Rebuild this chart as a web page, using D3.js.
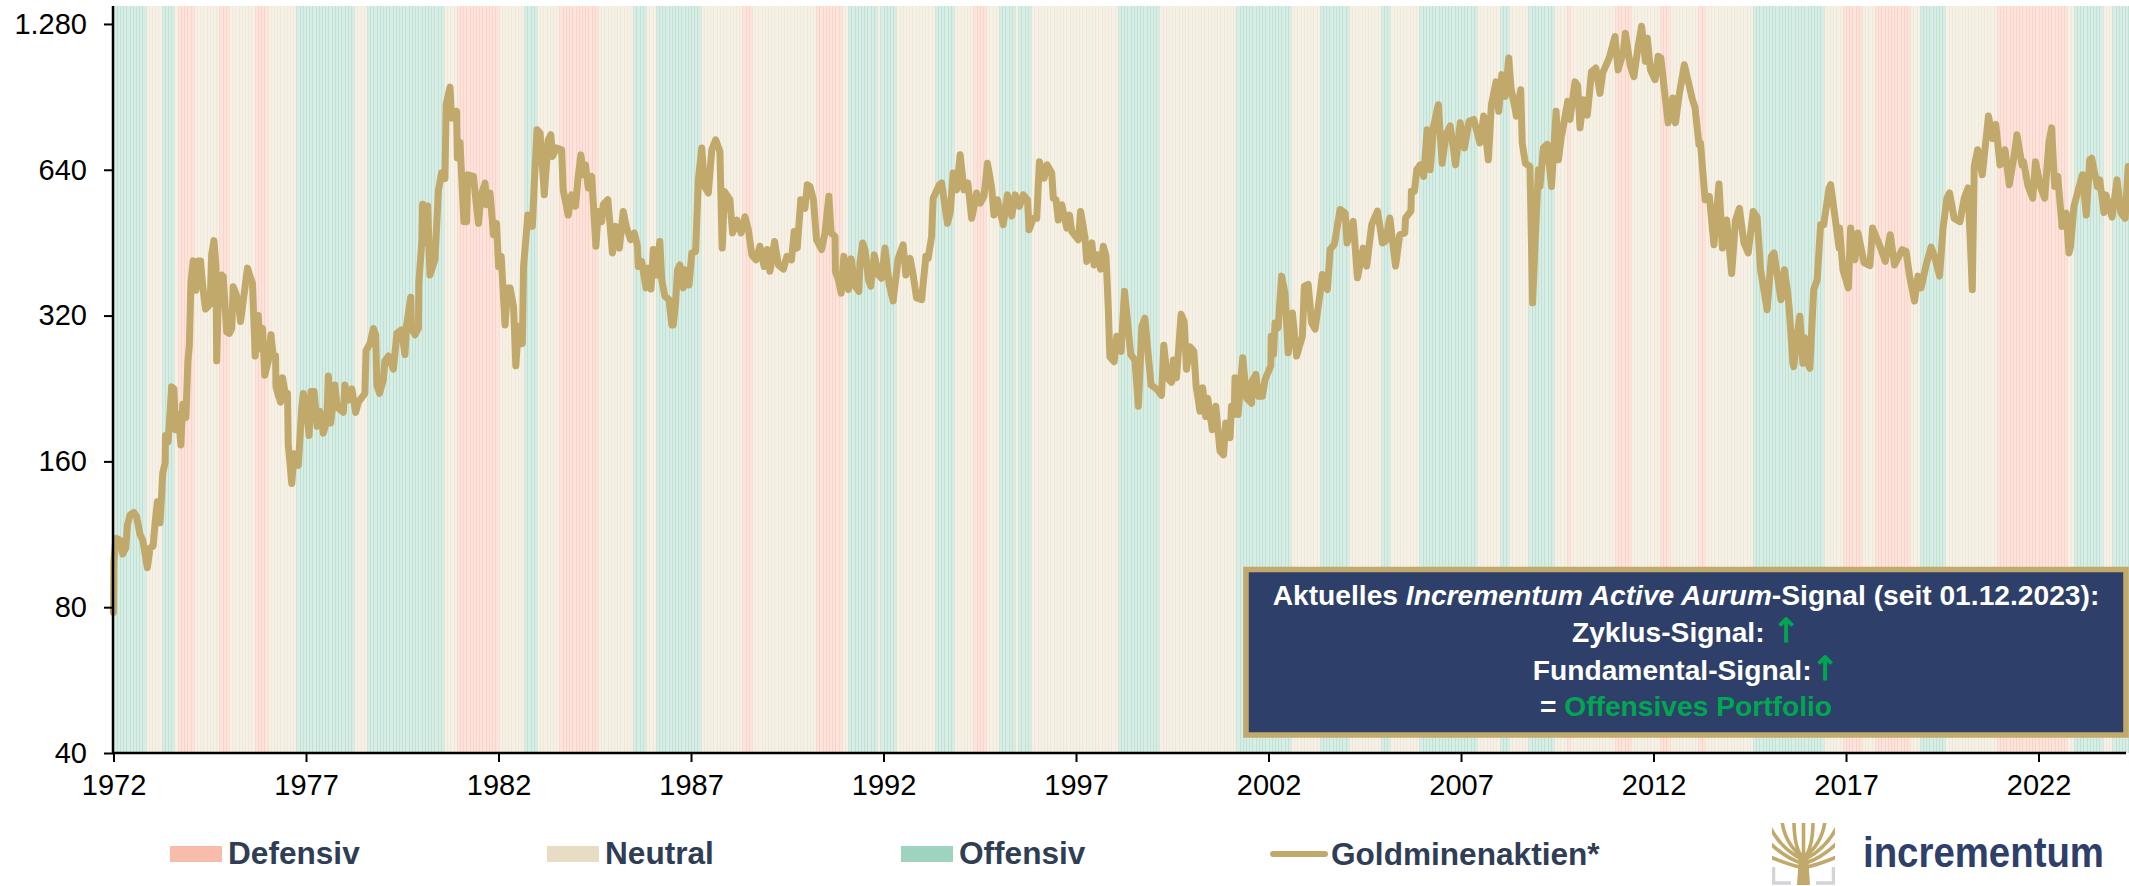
<!DOCTYPE html>
<html><head><meta charset="utf-8">
<script src="https://cdn.jsdelivr.net/npm/d3@7/dist/d3.min.js"></script>
<style>html,body{margin:0;padding:0;background:#fff}svg{display:block}text{font-family:"Liberation Sans",Arial,sans-serif}</style>
</head><body><svg id="c" width="2129" height="886"></svg>
<script>
const yTickValues=[40,80,160,320,640,1280];
const xTickYears=[1972,1977,1982,1987,1992,1997,2002,2007,2012,2017,2022];
const regimeNames=["Defensiv","Neutral","Offensiv"];
const regimeColors=["#f8bcab","#e8dcc4","#9dd3bf"];
const seriesName="Goldminenaktien*";
// regime end dates (decimal year) and state: 0 defensive, 1 neutral, 2 offensive
const regimeEnds=[1972.82,1973.23,1973.51,1973.60,1974.03,1974.71,1974.95,1975.62,1975.94,1976.71,1978.19,1978.53,1980.53,1980.87,1981.93,1982.09,1982.14,1982.61,1983.00,1983.55,1984.51,1985.47,1985.78,1986.04,1987.18,1988.27,1988.58,1989.86,1989.91,1990.25,1990.87,1991.03,1991.81,1991.88,1992.33,1993.31,1993.78,1994.27,1994.66,1994.97,1995.34,1995.42,1995.83,1998.04,1999.15,2001.10,2002.53,2003.27,2004.08,2004.87,2005.15,2005.86,2007.39,2007.99,2008.22,2008.71,2009.36,2009.75,2009.80,2010.92,2011.39,2012.12,2012.35,2013.11,2013.26,2014.58,2016.40,2016.84,2017.34,2017.75,2018.63,2018.84,2019.54,2020.87,2022.68,2022.84,2023.64,2023.90,2024.4];
const regimeStates=[2,1,2,1,0,1,0,1,0,1,2,1,2,1,0,1,0,1,2,1,0,1,2,1,2,1,0,1,2,1,0,1,2,1,2,1,2,1,0,1,2,1,2,1,2,1,2,1,2,1,2,1,2,1,2,1,2,1,0,1,0,1,0,1,0,1,2,1,0,1,0,1,2,1,0,1,2,1,2];
const years=[1972.00,1972.01,1972.06,1972.17,1972.24,1972.32,1972.36,1972.43,1972.53,1972.60,1972.69,1972.76,1972.82,1972.88,1972.95,1973.03,1973.08,1973.14,1973.21,1973.28,1973.34,1973.35,1973.42,1973.51,1973.57,1973.61,1973.68,1973.75,1973.80,1973.88,1973.93,1973.97,1974.01,1974.07,1974.14,1974.20,1974.26,1974.32,1974.39,1974.51,1974.55,1974.61,1974.66,1974.68,1974.72,1974.81,1974.85,1974.94,1975.01,1975.07,1975.11,1975.18,1975.24,1975.30,1975.37,1975.48,1975.55,1975.61,1975.68,1975.76,1975.81,1975.87,1975.93,1976.02,1976.09,1976.15,1976.21,1976.22,1976.28,1976.34,1976.39,1976.45,1976.52,1976.54,1976.63,1976.69,1976.80,1976.89,1976.93,1977.02,1977.08,1977.13,1977.21,1977.29,1977.36,1977.45,1977.54,1977.58,1977.64,1977.75,1977.81,1977.97,1978.01,1978.10,1978.19,1978.29,1978.36,1978.53,1978.56,1978.66,1978.75,1978.81,1978.84,1978.91,1979.01,1979.05,1979.14,1979.27,1979.36,1979.48,1979.57,1979.61,1979.72,1979.74,1979.83,1979.92,1979.93,1980.01,1980.03,1980.09,1980.16,1980.22,1980.35,1980.44,1980.52,1980.61,1980.64,1980.74,1980.78,1980.91,1980.93,1981.00,1981.10,
1981.17,1981.20,1981.35,1981.42,1981.48,1981.55,1981.65,1981.69,1981.78,1981.87,1981.95,1982.00,1982.07,1982.17,1982.24,1982.30,1982.39,1982.45,1982.52,1982.62,1982.65,1982.71,1982.76,1982.88,1982.93,1983.00,1983.08,1983.19,1983.29,1983.36,1983.40,1983.51,1983.64,1983.68,1983.81,1983.90,1984.00,1984.07,1984.14,1984.20,1984.26,1984.33,1984.42,1984.53,1984.59,1984.68,1984.72,1984.84,1984.96,1985.05,1985.14,1985.24,1985.33,1985.43,1985.53,1985.61,1985.63,1985.72,1985.83,1985.89,1985.96,1986.02,1986.09,1986.19,1986.24,1986.32,1986.43,1986.50,1986.54,1986.60,1986.65,1986.71,1986.80,1986.84,1986.95,1987.02,1987.12,1987.19,1987.28,1987.35,1987.45,1987.54,1987.64,1987.75,1987.81,1987.87,1988.01,1988.08,1988.19,1988.30,1988.40,1988.49,1988.58,1988.69,1988.79,1988.90,1988.98,1989.05,1989.17,1989.27,1989.40,1989.49,1989.61,1989.68,1989.76,1989.85,1989.96,1990.02,1990.09,1990.18,1990.26,
1990.39,1990.48,1990.58,1990.64,1990.74,1990.75,1990.83,1990.90,1990.97,1991.09,1991.16,1991.26,1991.36,1991.39,1991.46,1991.52,1991.61,1991.67,1991.76,1991.87,1991.95,1992.04,1992.15,1992.25,1992.38,1992.51,1992.58,1992.69,1992.77,1992.86,1992.99,1993.10,1993.16,1993.25,1993.29,1993.45,1993.51,1993.66,1993.73,1993.81,1993.90,1993.99,1994.09,1994.19,1994.29,1994.42,1994.51,1994.61,1994.70,1994.81,1994.87,1994.96,1995.11,1995.22,1995.33,1995.42,1995.53,1995.63,1995.74,1995.78,1995.89,1995.98,1996.05,1996.17,1996.25,1996.37,1996.41,1996.48,1996.54,1996.63,1996.76,1996.83,1996.89,1997.06,1997.12,1997.23,1997.28,1997.41,1997.47,1997.56,1997.64,1997.71,1997.78,1997.84,1997.88,1997.99,1998.06,1998.17,1998.26,1998.36,1998.42,1998.53,1998.62,1998.71,1998.79,1998.88,1998.95,1999.11,1999.22,1999.28,1999.37,1999.48,1999.53,
1999.61,1999.73,1999.81,1999.87,1999.96,2000.06,2000.12,2000.22,2000.29,2000.37,2000.42,2000.54,2000.63,2000.74,2000.83,2000.89,2001.00,2001.04,2001.11,2001.13,2001.21,2001.33,2001.43,2001.56,2001.57,2001.67,2001.74,2001.84,2001.91,2002.06,2002.07,2002.13,2002.17,2002.25,2002.34,2002.43,2002.51,2002.62,2002.73,2002.88,2002.93,2003.03,2003.12,2003.21,2003.34,2003.40,2003.53,2003.60,2003.71,2003.86,2003.99,2004.04,2004.20,2004.31,2004.46,2004.55,2004.68,2004.83,2004.96,2005.04,2005.15,2005.30,2005.41,2005.54,2005.56,2005.70,2005.71,2005.79,2005.85,2005.94,
2006.03,2006.12,2006.20,2006.29,2006.41,2006.51,2006.61,2006.72,2006.86,2006.98,2007.09,2007.21,2007.33,2007.49,2007.59,2007.71,2007.79,2007.91,2007.98,2008.06,2008.15,2008.24,2008.30,2008.44,2008.55,2008.59,2008.67,
2008.79,2008.86,2008.92,2009.01,2009.05,2009.14,2009.24,2009.35,2009.47,2009.53,2009.61,2009.62,2009.77,2009.83,2009.96,2010.03,2010.09,2010.18,2010.28,2010.39,2010.50,2010.61,2010.68,2010.85,2011.00,2011.08,2011.21,2011.27,2011.40,2011.49,2011.60,2011.69,2011.79,2011.84,2011.92,2012.04,2012.12,2012.19,2012.31,2012.38,2012.50,2012.57,2012.66,2012.80,2013.00,2013.08,2013.18,2013.22,2013.34,2013.45,2013.57,2013.70,2013.79,2013.90,2014.03,2014.13,2014.23,2014.35,2014.46,2014.59,2014.69,2014.78,2014.95,
2015.06,2015.13,2015.31,2015.40,2015.48,2015.52,2015.62,2015.64,2015.74,2015.80,2015.88,2015.92,2016.01,2016.06,2016.16,2016.25,2016.34,2016.42,2016.56,2016.60,2016.70,2016.82,2016.83,2016.92,2017.06,2017.12,2017.23,2017.31,2017.47,2017.62,2017.69,2017.89,2018.02,2018.15,2018.26,2018.46,2018.56,2018.65,2018.78,2018.87,2018.95,2019.08,2019.21,2019.30,2019.43,2019.52,2019.62,2019.69,2019.81,2019.96,2020.07,2020.17,2020.28,2020.33,2020.42,2020.54,2020.70,2020.81,2020.89,2021.00,2021.13,2021.24,2021.37,2021.44,2021.57,2021.61,2021.73,2021.85,2021.92,2022.06,2022.16,2022.27,2022.34,2022.42,2022.50,2022.61,2022.72,2022.79,2022.83,2022.92,2023.01,2023.14,2023.24,2023.33,2023.38,2023.53,2023.59,2023.70,2023.75,2023.91,2024.04,2024.14,2024.25,2024.33];
const goldMiners=[78,99,111,110,103,106,118,124,125.5,123,113,110,103,96.5,106,107,119.5,132,119.5,151.5,159,181,175.6,228,226,186,200,173,210,197,256,278,373,415,361,415,415,367,330,338,428,457,404,258,343,388,385,296,294,301,367,355,343,311,343,401,385,373,264,320,273,301,241,258,292,264,264,228,219,212,238,223,221,173,144,166,157,207,221,203,181,223,223,189,203,183,194,240,192,230,207,202,230,214,226,202,212,221,271,280,301,292,230,221,236,258,264,248,294,299,266,304,349,301,292,301,373,457,543,453,539,388,418,580,630,614,873,948,818,845,677,729,500,
500,625,620,546,496,568,601,542,573,470,496,404,424,306,365,365,334,252,304,280,404,459,516,489,601,774,762,568,738,756,682,710,704,582,516,568,538,620,687,625,655,587,620,445,525,500,542,555,431,489,441,525,485,459,474,445,404,414,365,401,363,438,388,455,379,351,345,306,306,340,398,407,365,398,370,431,434,610,710,591,573,704,738,698,441,577,555,474,504,474,512,481,427,417,445,404,438,395,455,407,399,424,417,477,441,555,533,596,591,555,459,
438,474,564,474,466,395,379,356,424,362,419,368,359,414,452,438,379,368,427,388,382,441,370,343,420,448,388,420,388,348,345,424,420,466,559,596,601,496,521,630,582,687,582,601,508,573,546,564,660,587,516,555,493,568,514,568,538,568,555,481,508,508,665,615,655,630,559,555,504,542,485,516,477,459,525,466,414,452,407,427,399,445,424,329,263,257,290,270,359,299,266,259,208,304,316,263,230,225,219,278,238,233,259,
238,322,311,248,276,270,229,203,227,198,216,186,208,168,165,192,179,208,200,238,200,262,216,211,234,242,218,218,236,252,290,266,309,302,386,356,268,324,264,290,368,371,309,300,356,389,362,438,449,530,521,452,501,383,441,405,493,526,452,456,509,405,470,474,509,526,578,578,640,655,620,
774,640,788,872,660,756,788,655,800,710,806,813,727,826,671,872,972,845,1006,907,1089,943,826,936,727,660,650,
340,445,640,591,710,722,591,845,671,756,756,886,813,972,954,781,893,830,1020,1038,920,1014,1089,1206,1029,1115,1225,1046,996,1150,1266,1072,1196,1029,982,1098,1089,893,800,900,800,907,1054,900,858,722,727,555,564,448,598,441,504,391,504,533,452,431,525,511,398,329,424,
431,345,398,359,334,255,251,296,319,255,288,255,249,362,379,493,493,587,596,521,441,485,398,365,485,417,474,411,406,485,443,414,470,407,438,434,386,343,386,365,407,443,424,386,485,559,573,508,500,559,587,362,650,704,625,826,742,794,655,704,596,687,756,655,665,591,559,665,587,559,729,781,591,620,489,521,431,443,538,573,625,516,671,676,591,610,522,568,511,610,521,508,650,653];
const boxTitle=["Aktuelles ","Incrementum Active Aurum","-Signal (seit 01.12.2023):"];
const boxLines=["Zyklus-Signal: ","Fundamental-Signal:"];
const boxResult=["= ","Offensives Portfolio"];

const svg=d3.select("#c");
const x=d3.scaleLinear().domain([1972,2024.35]).range([113.5,2129]);
const y=d3.scaleLog().base(2).domain([40,1394]).range([753,6]);
const deLocale=d3.formatLocale({decimal:",",thousands:".",grouping:[3],currency:["","€"]});
const gold="#c1a96c", navy="#2e4069", ink="#2f3e55";

// regime bands, one monthly bar each
const monthStep=1/12;
const months=d3.range(0,Math.floor((2024.35-1972)*12)+1).map(i=>1972+i*monthStep);
const stateAt=t=>regimeStates[Math.min(d3.bisectRight(regimeEnds,t),regimeStates.length-1)];
svg.append("g").attr("shape-rendering","crispEdges").selectAll("rect").data(months).join("rect")
 .attr("x",d=>x(d)).attr("y",y(1394)).attr("width",x(monthStep)-x(0)+1).attr("height",y(40)-y(1394))
 .attr("fill",d=>regimeColors[stateAt(d)]).attr("opacity",0.4);

// series
const line=d3.line().x((d,i)=>x(years[i])).y(d=>y(d));
svg.append("path").datum(goldMiners).attr("d",line).attr("fill","none").attr("stroke",gold)
 .attr("stroke-width",7).attr("stroke-linejoin","round").attr("stroke-linecap","round");

// axes
const yAxis=d3.axisLeft(y).tickValues(yTickValues).tickFormat(deLocale.format(",")).tickSize(9).tickPadding(17);
const gy=svg.append("g").attr("transform","translate(113,0)").call(yAxis);
const xAxis=d3.axisBottom(x).tickValues(xTickYears).tickFormat(d3.format("d")).tickSize(9).tickPadding(12);
const gx=svg.append("g").attr("transform","translate(0,753)").call(xAxis);
gy.select(".domain").attr("d","M0,6V754").attr("stroke","#000").attr("stroke-width",2.5);
gx.select(".domain").attr("d","M112,0H2126").attr("stroke","#000").attr("stroke-width",2.5);
[gx,gy].forEach(g=>{g.selectAll(".tick line").attr("stroke","#000").attr("stroke-width",2);
 g.selectAll("text").attr("fill","#000").style("font-size","29px").style("font-family",'"Liberation Sans",Arial,sans-serif');});

// legend
const legendX=[170,547,901];
const legendG=svg.append("g");
regimeNames.forEach((n,i)=>{
 legendG.append("rect").attr("x",legendX[i]).attr("y",846).attr("width",52).attr("height",16).attr("fill",regimeColors[i]);
 legendG.append("text").attr("x",legendX[i]+58).attr("y",864).attr("fill",ink).style("font-size","31.6px").style("font-weight",700).text(n);
});
legendG.append("line").attr("x1",1273).attr("x2",1325).attr("y1",854).attr("y2",854).attr("stroke",gold).attr("stroke-width",6).attr("stroke-linecap","round");
legendG.append("text").attr("x",1331).attr("y",865).attr("fill",ink).style("font-size","31.6px").style("font-weight",700).text(seriesName);

// signal box
const green="#00a651";
svg.append("rect").attr("x",1246).attr("y",569.5).attr("width",880).attr("height",165.5).attr("fill",navy).attr("stroke",gold).attr("stroke-width",5.5);
const boxT=svg.append("g").attr("fill","#fff").attr("text-anchor","middle").style("font-size","28.2px").style("font-weight",700);
const cx=1686;
const arrow=t=>t.append("tspan").attr("fill",green).attr("stroke",green).attr("stroke-width",1).style("font-family","'DejaVu Sans'").style("font-size","33px").style("font-weight",400).text("↑");
const t1=boxT.append("text").attr("x",cx).attr("y",605);
t1.append("tspan").text(boxTitle[0]);
t1.append("tspan").style("font-style","italic").text(boxTitle[1]);
t1.append("tspan").text(boxTitle[2]);
const t2=boxT.append("text").attr("x",cx).attr("y",642);
t2.append("tspan").text(boxLines[0]); arrow(t2);
const t3=boxT.append("text").attr("x",cx).attr("y",680);
t3.append("tspan").text(boxLines[1]); arrow(t3);
const t4=boxT.append("text").attr("x",cx).attr("y",716);
t4.append("tspan").text(boxResult[0]);
t4.append("tspan").attr("fill",green).text(boxResult[1]);

// logo
const logo=svg.append("g").attr("transform","translate(1772,823)");
logo.append("clipPath").attr("id","lg").append("rect").attr("width",63).attr("height",62);
const lg=logo.append("g").attr("clip-path","url(#lg)");
lg.append("path").attr("d","M1.5,44V60H19 M61.5,44V60H44").attr("fill","none").attr("stroke","#d4d4d8").attr("stroke-width",3.5);
lg.append("path").attr("fill",gold).attr("d","M25,62L27,32H36L38,62Z");
lg.append("path").attr("fill","none").attr("stroke",gold).attr("stroke-width",3.6)
 .attr("d","M31.5,36C24,28 22,14 22,-2 M31.5,36V-2 M31.5,36C39,28 41,14 41,-2 M30,34C20,26 12,14 10,-2 M33,34C43,26 51,14 53,-2 M29,36C18,30 6,20 -2,4 M34,36C45,30 57,20 65,4 M29,40C18,36 8,30 -2,20 M34,40C45,36 55,30 65,20 M28,44C18,42 8,38 -2,34 M35,44C45,42 55,38 65,34");
svg.append("text").attr("x",1863).attr("y",867).attr("fill",navy).attr("textLength",241).attr("lengthAdjust","spacingAndGlyphs")
 .style("font-size","42px").style("font-weight",700).text("incrementum");
</script></body></html>
